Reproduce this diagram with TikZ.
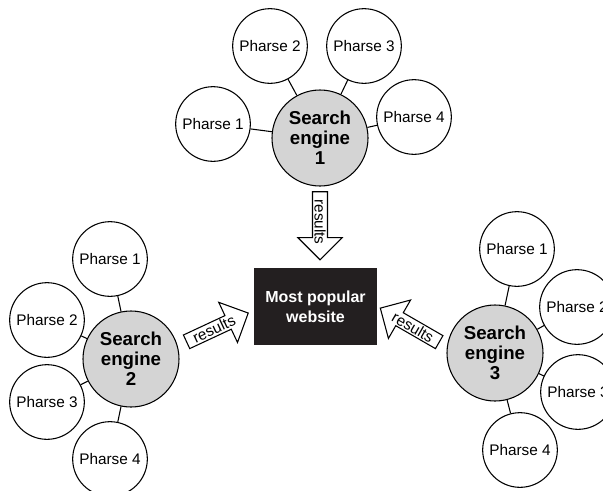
\documentclass[tikz,border=0pt]{standalone}
\usepackage{fontspec}
\setmainfont{Liberation Sans}
\usetikzlibrary{shapes.arrows}
\definecolor{EngineGray}{HTML}{D4D4D4}
\definecolor{SiteBlack}{HTML}{231F20}

\begin{document}
\begin{tikzpicture}[x=0.75pt,y=-0.75pt,
  phrase/.style={draw, circle, line width=0.8pt, minimum size=56pt, inner sep=0pt,
                 font=\fontsize{11.5}{13}\selectfont},
  engine/.style={draw, circle, fill=EngineGray, line width=0.8pt, minimum size=72pt,
                 inner sep=0pt, align=center, font=\bfseries\fontsize{14}{15}\selectfont},
  site/.style={fill=SiteBlack, text=white, minimum width=92pt, minimum height=58pt,
               align=center, font=\bfseries\fontsize{12}{15}\selectfont},
  result/.style={draw, single arrow, line width=0.8pt, fill=white, inner sep=1pt,
                 minimum height=51pt, single arrow head extend=11pt,
                 single arrow head indent=0pt, font=\fontsize{11.5}{12}\selectfont},
  link/.style={line width=0.8pt}]
\useasboundingbox (0,0) rectangle (603,490);
\clip (0,0) rectangle (603,490);

% search engines
\node[engine] (se1) at (320,138) {Search\\engine\\1};
\node[engine] (se2) at (131,359) {Search\\engine\\2};
\node[engine] (se3) at (495,353) {Search\\engine\\3};

% phrases round each engine
\foreach \n/\x/\y in {1/213/124, 2/270/46, 3/364/46, 4/414/117}{
  \node[phrase] (s1p\n) at (\x,\y) {Pharse \n};
  \draw[link] (s1p\n) -- (se1);
}
\foreach \n/\x/\y in {1/110/259, 2/47/320, 3/47/402, 4/110/459}{
  \node[phrase] (s2p\n) at (\x,\y) {Pharse \n};
  \draw[link] (s2p\n) -- (se2);
}
\foreach \n/\x/\y in {1/517/249, 2/577/307, 3/578/392, 4/520/450}{
  \node[phrase] (s3p\n) at (\x,\y) {Pharse \n};
  \draw[link] (s3p\n) -- (se3);
}

% the winner
\node[site] (popular) at (315.5,306.5) {Most popular\\website};

% results
\node[result, rotate=-90] (res1) at (320,222) {results};
\node[result, rotate=25] (res2) at (214,329) {results};
\node[result, rotate=-30, shape border rotate=180] (res3) at (413,327) {results};
\end{tikzpicture}
\end{document}
